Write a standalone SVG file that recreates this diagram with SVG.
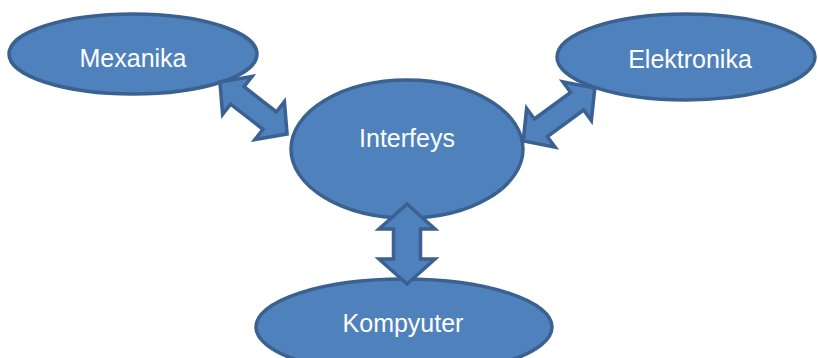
<svg xmlns="http://www.w3.org/2000/svg" width="818" height="358" viewBox="0 0 818 358">
<style>
.n{fill:#4F81BD;stroke:#3A6190;stroke-width:3.5}
.a{fill:#4F81BD;stroke:#3A6190;stroke-width:3.5;stroke-linejoin:miter}
text{font-family:"Liberation Sans",Arial,sans-serif;font-size:25px;fill:#FFFFFF;text-anchor:middle}
</style>
<rect width="818" height="358" fill="#FFFFFF"/>
<g id="mexanika"><ellipse class="n" cx="133" cy="54" rx="124" ry="40"/><text x="133" y="67">Mexanika</text></g>
<g id="elektronika"><ellipse class="n" cx="686" cy="57" rx="129" ry="43"/><text x="690" y="68">Elektronika</text></g>
<g id="interfeys"><ellipse class="n" cx="407" cy="149" rx="116" ry="69"/><text x="407" y="147">Interfeys</text></g>
<g id="kompyuter"><ellipse class="n" cx="404" cy="327" rx="148" ry="48"/><text x="403" y="332">Kompyuter</text></g>
<g id="connectors">
<path class="a" transform="translate(253.5,108) rotate(37.8)" d="M-42.5,0 L-20.5,-24 L-20.5,-11 L20.5,-11 L20.5,-24 L42.5,0 L20.5,24 L20.5,11 L-20.5,11 L-20.5,24 Z"/>
<path class="a" transform="translate(559,114.5) rotate(-36.4)" d="M-44.5,0 L-22.5,-24 L-22.5,-11 L22.5,-11 L22.5,-24 L44.5,0 L22.5,24 L22.5,11 L-22.5,11 L-22.5,24 Z"/>
<path class="a" transform="translate(407,244) rotate(90)" d="M-40,0 L-15,-28 L-15,-13.5 L15,-13.5 L15,-28 L40,0 L15,28 L15,13.5 L-15,13.5 L-15,28 Z"/>
</g>
</svg>
